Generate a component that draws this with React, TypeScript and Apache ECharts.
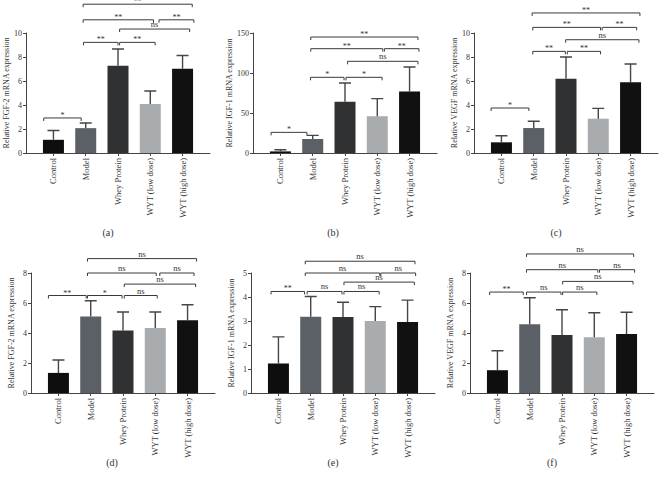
import React, { useEffect, useRef } from "react";
import * as echarts from "echarts";

const categories = ["Control", "Model", "Whey Protein", "WYT (low dose)", "WYT (high dose)"];
const barColors = ["#0e0e0e", "#5b5f66", "#303132", "#a9acaf", "#111111"];
const panelLetters = ["(a)", "(b)", "(c)", "(d)", "(e)", "(f)"];
const yTitles = [
  "Relative FGF-2 mRNA expression",
  "Relative IGF-1 mRNA expression",
  "Relative VEGF mRNA expression",
  "Relative FGF-2 mRNA expression",
  "Relative IGF-1 mRNA expression",
  "Relative VEGF mRNA expression",
];
const yMax = [10, 150, 10, 8, 5, 8];
const yInterval = [2, 50, 2, 2, 1, 2];

const meanA = [1.1, 2.07, 7.28, 4.08, 7.03];
const sdA = [0.78, 0.43, 1.39, 1.09, 1.09];
const meanB = [2, 17.5, 64, 46, 77];
const sdB = [2, 4.5, 23.5, 22, 30.5];
const meanC = [0.89, 2.08, 6.19, 2.86, 5.89];
const sdC = [0.55, 0.56, 1.81, 0.86, 1.53];
const meanD = [1.34, 5.1, 4.16, 4.34, 4.85];
const sdD = [0.86, 1.05, 1.24, 1.06, 1.03];
const meanE = [1.23, 3.18, 3.17, 3.0, 2.96];
const sdE = [1.11, 0.84, 0.61, 0.6, 0.91];
const meanF = [1.52, 4.58, 3.87, 3.71, 3.93];
const sdF = [1.3, 1.77, 1.68, 1.64, 1.45];

// [from, to, height, label]; positions in category units (Control = 1 ... high dose = 5)
const bracketsA: [number, number, number, string][] = [
  [0.7, 1.86, 2.92, "*"],
  [1.93, 3.0, 9.22, "**"],
  [3.05, 4.15, 9.22, "**"],
  [3.05, 5.22, 10.33, "ns"],
  [1.92, 4.1, 11.1, "**"],
  [4.27, 5.35, 11.1, "**"],
  [1.92, 5.3, 12.4, "**"],
];
const bracketsB: [number, number, number, string][] = [
  [0.71, 1.82, 25.8, "*"],
  [1.93, 2.97, 94.6, "*"],
  [3.03, 4.15, 94.6, "*"],
  [3.08, 5.26, 114.6, "ns"],
  [1.94, 4.17, 130.4, "**"],
  [4.22, 5.29, 130.4, "**"],
  [1.94, 5.26, 145, "**"],
];
const bracketsC: [number, number, number, string][] = [
  [0.68, 1.85, 3.75, "*"],
  [1.97, 2.98, 8.47, "**"],
  [3.04, 4.07, 8.47, "**"],
  [2.99, 5.26, 9.44, "ns"],
  [1.97, 4.07, 10.47, "**"],
  [4.12, 5.19, 10.47, "**"],
  [1.95, 5.29, 11.67, "**"],
];
const bracketsD: [number, number, number, string][] = [
  [0.69, 1.86, 6.5, "**"],
  [1.9, 2.97, 6.5, "*"],
  [3.04, 4.06, 6.5, "ns"],
  [3.04, 5.25, 7.26, "ns"],
  [1.9, 4.03, 8.0, "ns"],
  [4.14, 5.2, 8.0, "ns"],
  [1.9, 5.28, 8.96, "ns"],
];
const bracketsE: [number, number, number, string][] = [
  [0.77, 1.81, 4.23, "**"],
  [1.89, 2.97, 4.23, "ns"],
  [3.03, 4.12, 4.23, "ns"],
  [3.03, 5.21, 4.62, "ns"],
  [1.83, 4.14, 5.0, "ns"],
  [4.17, 5.25, 5.0, "ns"],
  [1.83, 5.23, 5.49, "ns"],
];
const bracketsF: [number, number, number, string][] = [
  [0.76, 1.8, 6.73, "**"],
  [1.9, 2.97, 6.73, "ns"],
  [3.02, 4.08, 6.73, "ns"],
  [3.02, 5.2, 7.44, "ns"],
  [1.9, 4.11, 8.22, "ns"],
  [4.16, 5.25, 8.22, "ns"],
  [1.9, 5.22, 9.27, "ns"],
];

const means = [meanA, meanB, meanC, meanD, meanE, meanF];
const sds = [sdA, sdB, sdC, sdD, sdE, sdF];
const brackets = [bracketsA, bracketsB, bracketsC, bracketsD, bracketsE, bracketsF];

const FONT = "'Liberation Serif', 'DejaVu Serif', serif";
const INK = "#333333";
const gridPos = [
  { left: 26, top: 33 },
  { left: 253, top: 33 },
  { left: 474, top: 33 },
  { left: 31, top: 273 },
  { left: 251, top: 273 },
  { left: 470, top: 273 },
];
const nameGaps = [16, 20, 16, 16, 16, 16];
const letterPos = [
  { x: 108, y: 232 },
  { x: 333, y: 232 },
  { x: 556, y: 232 },
  { x: 112, y: 462 },
  { x: 333, y: 462 },
  { x: 552, y: 462 },
];

export default function App() {
  const ref = useRef<HTMLDivElement>(null);
  useEffect(() => {
    document.body.style.margin = "0";
    const chart = echarts.init(ref.current!, null, { renderer: "svg" });
    const pos = [1, 2, 3, 4, 5];
    const grids: any[] = [];
    const xAxes: any[] = [];
    const yAxes: any[] = [];
    const series: any[] = [];
    for (let p = 0; p < 6; p++) {
      grids.push({ left: gridPos[p].left, top: gridPos[p].top, width: 184, height: 120 });
      xAxes.push({
        type: "value",
        gridIndex: p,
        min: 0.15,
        max: 5.85,
        splitLine: { show: false },
        axisLine: { show: true, onZero: false, lineStyle: { color: "#444", width: 1 } },
        axisTick: { show: true, customValues: pos, length: 3, lineStyle: { color: "#444" } },
        axisLabel: {
          show: true,
          customValues: pos,
          rotate: 90,
          margin: 5,
          fontSize: 8.5,
          fontFamily: FONT,
          color: INK,
          formatter: (v: number) => categories[Math.round(v) - 1] ?? "",
        },
      });
      yAxes.push({
        type: "value",
        gridIndex: p,
        min: 0,
        max: yMax[p],
        interval: yInterval[p],
        name: yTitles[p],
        nameLocation: "middle",
        nameGap: nameGaps[p],
        nameTextStyle: { fontSize: 8, fontFamily: FONT, color: INK },
        splitLine: { show: false },
        axisLine: { show: true, onZero: false, lineStyle: { color: "#444", width: 1 } },
        axisTick: { show: true, length: 3, lineStyle: { color: "#444" } },
        axisLabel: { fontSize: 8, fontFamily: FONT, color: INK, margin: 4 },
      });
      const mp = means[p];
      const sd = sds[p];
      const br = brackets[p];
      series.push({
        type: "bar",
        id: "bar" + p,
        xAxisIndex: p,
        yAxisIndex: p,
        barWidth: 21,
        data: mp.map((m, i) => ({ value: [pos[i], m], itemStyle: { color: barColors[i] } })),
      });
      const rows: number[][] = [
        ...mp.map((m, i) => [0, pos[i], m, m + sd[i]]),
        ...br.map((b) => [1, b[0], b[1], b[2]]),
      ];
      series.push({
        type: "custom",
        id: "overlay" + p,
        xAxisIndex: p,
        yAxisIndex: p,
        clip: false,
        z: 4,
        itemStyle: { color: INK },
        data: rows,
        encode: { x: 1, y: 3 },
        renderItem: (params: any, api: any) => {
          const r = rows[params.dataIndex];
          if (r[0] === 0) {
            const base = api.coord([r[1], r[2]]);
            const top = api.coord([r[1], r[3]]);
            const half = 6;
            return {
              type: "polyline",
              shape: {
                points: [
                  [base[0], base[1]],
                  [top[0], top[1]],
                  [top[0] - half, top[1]],
                  [top[0] + half, top[1]],
                ],
              },
              style: { stroke: "#464646", lineWidth: 1.4, fill: null },
            };
          }
          const b = br[params.dataIndex - mp.length];
          const p1 = api.coord([r[1], r[3]]);
          const p2 = api.coord([r[2], r[3]]);
          const label = b[3];
          return {
            type: "group",
            children: [
              {
                type: "polyline",
                shape: {
                  points: [
                    [p1[0], p1[1] + 3],
                    [p1[0], p1[1]],
                    [p2[0], p2[1]],
                    [p2[0], p2[1] + 3],
                  ],
                },
                style: { stroke: "#3a3a3a", lineWidth: 1, fill: null },
              },
              {
                type: "text",
                x: (p1[0] + p2[0]) / 2,
                y: p1[1] - (label === "ns" ? 0.5 : -1.5),
                style: {
                  text: label,
                  align: "center",
                  verticalAlign: "bottom",
                  fontSize: label === "ns" ? 8.5 : 8,
                  fontFamily: FONT,
                  fill: INK,
                },
              },
            ],
          };
        },
      });
    }
    chart.setOption({
      animation: false,
      backgroundColor: "#ffffff",
      textStyle: { fontFamily: FONT },
      grid: grids,
      xAxis: xAxes,
      yAxis: yAxes,
      series,
      graphic: letterPos.map((lp, i) => ({
        type: "text",
        x: lp.x,
        y: lp.y,
        style: {
          text: panelLetters[i],
          align: "center",
          verticalAlign: "middle",
          fontSize: 10,
          fontFamily: FONT,
          fill: INK,
        },
      })),
    });
    return () => chart.dispose();
  }, []);
  return <div ref={ref} style={{ width: 659, height: 478 }} />;
}
